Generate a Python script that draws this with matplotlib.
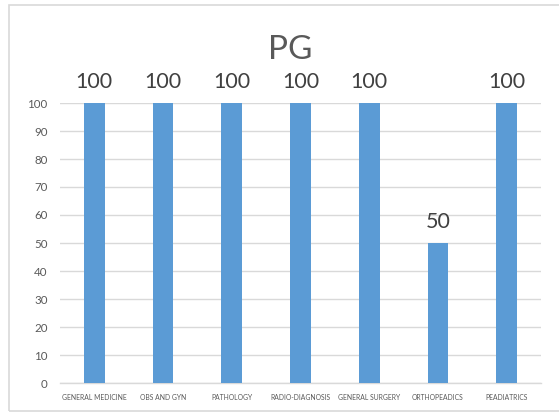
import matplotlib
matplotlib.use("Agg")
import matplotlib.pyplot as plt
from matplotlib.patches import Rectangle

categories = ["GENERAL MEDICINE", "OBS AND GYN", "PATHOLOGY", "RADIO-DIAGNOSIS",
              "GENERAL SURGERY", "ORTHOPEADICS", "PEADIATRICS"]
values = [100, 100, 100, 100, 100, 50, 100]
yticks = [0, 10, 20, 30, 40, 50, 60, 70, 80, 90, 100]
title = "PG"

plt.rcParams['font.family'] = ['Lato', 'DejaVu Sans']

W, H = 559, 415
fig = plt.figure(figsize=(W / 100, H / 100), dpi=100)
fig.patch.set_facecolor("white")

# chart border
fig.patches.append(Rectangle((9 / W, 4 / H), 1.0, (410 - 4) / H, transform=fig.transFigure,
                             fill=False, edgecolor="#D9D9D9", linewidth=1.2))

ax = fig.add_axes([60 / W, 1 - 383 / H, (541 - 60) / W, (383 - 103) / H])
x = list(range(len(categories)))
bars = ax.bar(x, values, width=0.30, color="#5B9BD5", zorder=3)
ax.set_xlim(-0.5, len(categories) - 0.5)
ax.set_ylim(0, 100)
ax.set_yticks(yticks)
ax.set_yticklabels([str(t) for t in yticks], fontsize=8.3, color="#595959")
ax.set_xticks(x)
ax.set_xticklabels(categories, fontsize=4.9, color="#595959")
ax.tick_params(axis="both", length=0)
ax.tick_params(axis="y", pad=9)
ax.tick_params(axis="x", pad=8)
ax.grid(axis="y", color="#D9D9D9", linewidth=1, zorder=0)
for s in ["top", "right", "left"]:
    ax.spines[s].set_visible(False)
ax.spines["bottom"].set_color("#D9D9D9")
ax.spines["bottom"].set_linewidth(1)

for xi, v in zip(x, values):
    ax.annotate(str(v), (xi, v), xytext=(0, 8), textcoords="offset points",
                ha="center", va="bottom", fontsize=15.5, color="#404040")

fig.text(290 / W, 1 - 50 / H, title, ha="center", va="center",
         fontsize=24, color="#595959")

fig.savefig("out.png", dpi=100)
